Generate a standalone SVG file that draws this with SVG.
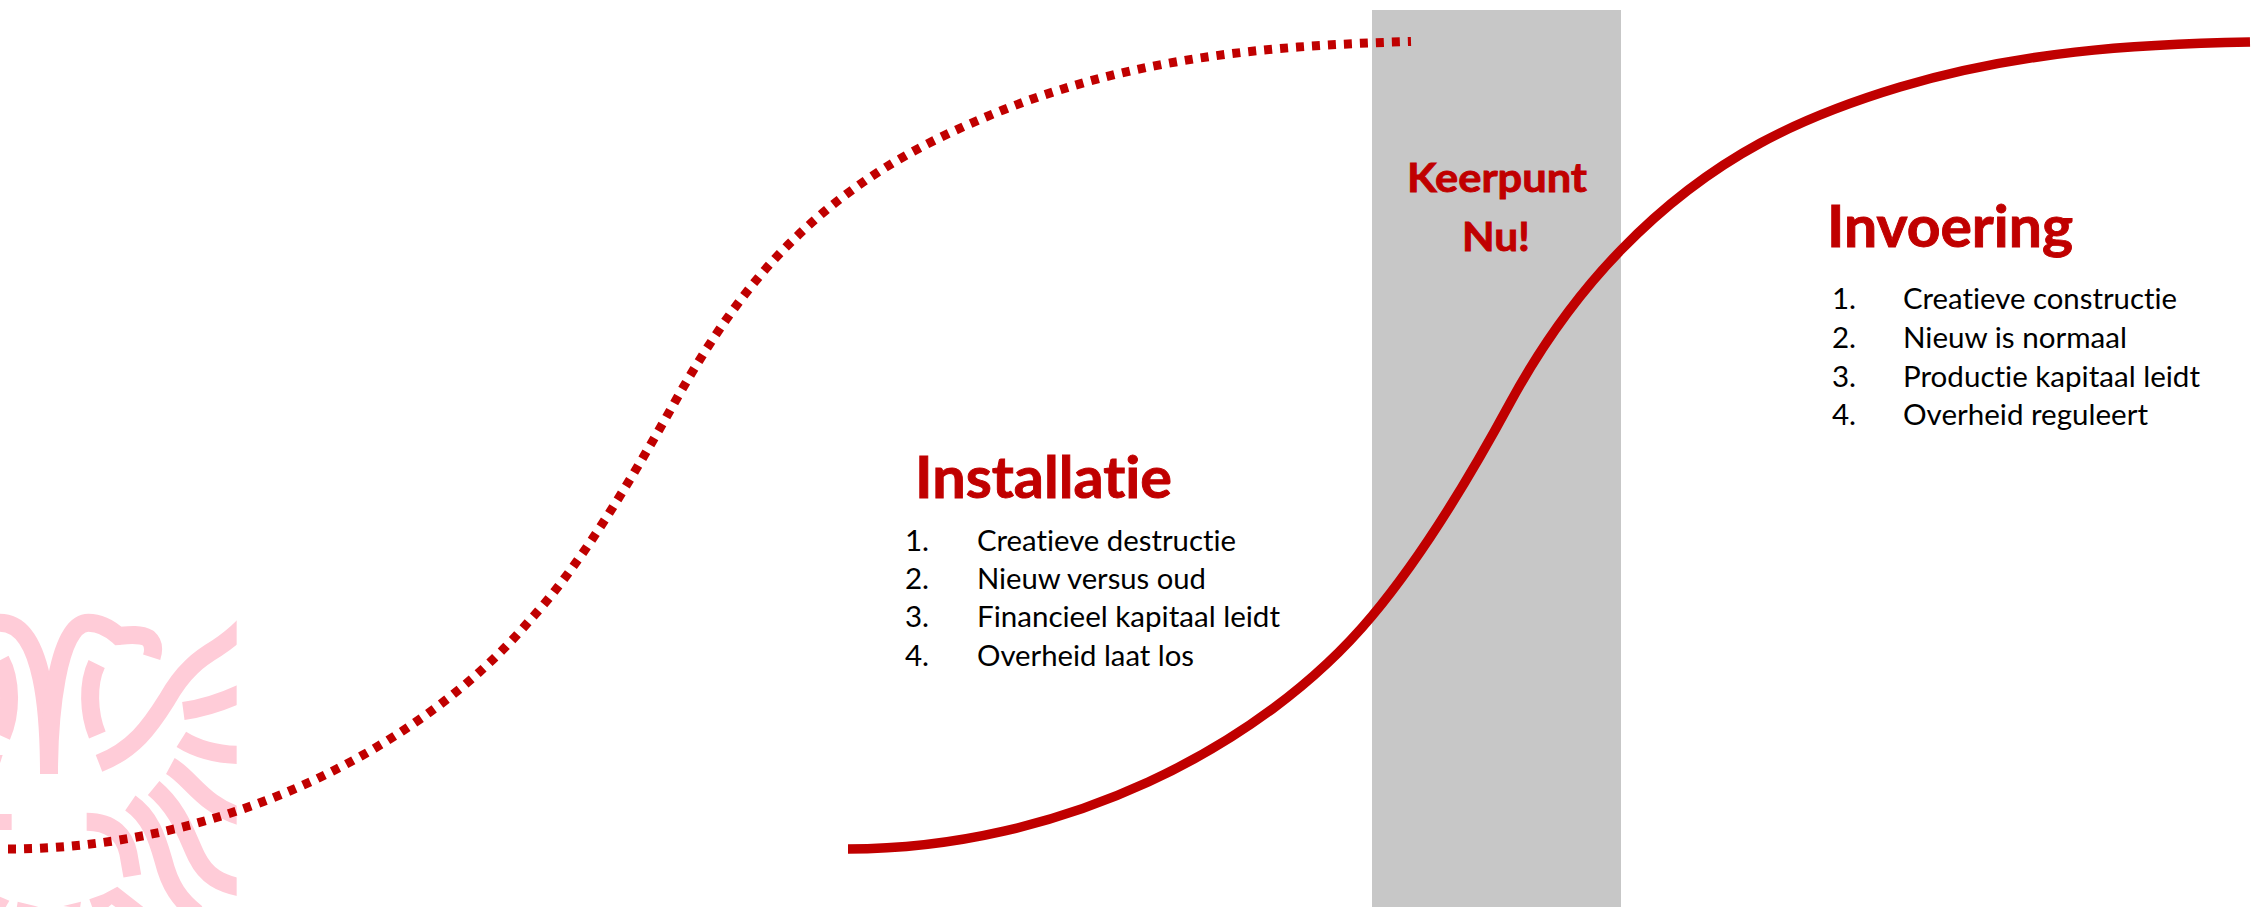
<svg xmlns="http://www.w3.org/2000/svg" width="2253" height="907" viewBox="0 0 2253 907">
  <style>
    .curve { fill: none; stroke: #C00000; stroke-width: 9.5; }
    .dotted { stroke-width: 9; stroke-dasharray: 8 8; }
    .logo path { fill: none; stroke: #FFCCD8; stroke-width: 54; }
    .logo polygon, .logo rect { fill: #FFCCD8; stroke: none; }
    text { font-family: "Lato", "Open Sans", sans-serif; font-variant-ligatures: none; }
    .title { fill: #C00000; font-weight: 700; stroke: #C00000; stroke-width: 0.9; }
    .h1 { font-size: 58px; }
    .h2 { font-size: 41px; }
    .item { fill: #000; font-size: 29.5px; }
  </style>
  <defs>
    <clipPath id="logoClip"><rect x="-5" y="0" width="715" height="990"/></clipPath>
  </defs>
  <rect width="2253" height="907" fill="#fff"/>
  <g id="logo" class="logo" transform="translate(0,580) scale(0.33333)" clip-path="url(#logoClip)">
    <path d="M147,582 C147,420 135,128 0,128"/>
    <path d="M147,582 C147,420 170,128 265,128 C300,128 330,145 355,168 C385,165 420,160 445,175 C462,190 462,210 455,232"/>
    <path d="M290,252 C262,310 265,400 292,465"/>
    <path d="M2,240 C35,300 35,400 5,468"/>
    <polygon points="0,525 8,525 0,550"/>
    <path d="M297,550 C400,510 450,440 500,360 C550,270 600,235 650,205 C680,185 700,170 730,140"/>
    <path d="M550,393 C610,385 660,370 730,337"/>
    <path d="M544,478 C595,510 650,525 730,525"/>
    <path d="M511,558 C570,590 610,680 730,712"/>
    <path d="M461,624 C540,690 560,770 590,830 C620,890 660,910 730,925"/>
    <path d="M391,669 C450,710 470,770 490,840 C510,920 540,960 590,1000"/>
    <path d="M260,725 C340,725 375,770 385,820 L397,888"/>
    <rect x="0" y="702" width="35" height="48"/>
    <polygon points="0,950 28,962 15,985 0,985"/>
    <polygon points="53,965 115,980 50,985"/>
    <polygon points="190,978 243,965 240,985"/>
    <polygon points="268,958 310,943 352,920 435,985 352,985 335,973 320,985 278,985"/>
  </g>
  <g id="keerpunt">
    <rect x="1372" y="10" width="249" height="897" fill="#C7C7C7"/>
    <text class="title h2" x="1407" y="192" textLength="180" lengthAdjust="spacingAndGlyphs">Keerpunt</text>
    <text class="title h2" x="1462" y="251" textLength="68" lengthAdjust="spacingAndGlyphs">Nu!</text>
  </g>
  <g id="connectors">
    <path class="curve dotted" d="M8,849 C220,849 420,750 530,620 C579,567 627,487 676,400 C713,334 750,283 788,245 C860,173 931,139 1003,110 C1139,56 1274,45.5 1411,41.5"/>
    <path class="curve" d="M848,849 C1060,849 1262,748 1372,616 C1418,561 1464,488 1510,403 C1547,335 1584,288 1621,250 C1714,154 1807,115 1900,87 C2017,52 2133,44 2250,42"/>
  </g>
  <g id="installatie">
    <text class="title h1" x="915" y="498" textLength="257" lengthAdjust="spacingAndGlyphs">Installatie</text>
    <text class="item" x="905" y="551">1.</text>
    <text class="item" x="977" y="551" textLength="259" lengthAdjust="spacingAndGlyphs">Creatieve destructie</text>
    <text class="item" x="905" y="589">2.</text>
    <text class="item" x="977" y="589" textLength="229" lengthAdjust="spacingAndGlyphs">Nieuw versus oud</text>
    <text class="item" x="905" y="627">3.</text>
    <text class="item" x="977" y="627" textLength="303" lengthAdjust="spacingAndGlyphs">Financieel kapitaal leidt</text>
    <text class="item" x="905" y="666">4.</text>
    <text class="item" x="977" y="666" textLength="217" lengthAdjust="spacingAndGlyphs">Overheid laat los</text>
  </g>
  <g id="invoering">
    <text class="title h1" x="1827" y="247" textLength="246" lengthAdjust="spacingAndGlyphs">Invoering</text>
    <text class="item" x="1832" y="309">1.</text>
    <text class="item" x="1903" y="309" textLength="274" lengthAdjust="spacingAndGlyphs">Creatieve constructie</text>
    <text class="item" x="1832" y="348">2.</text>
    <text class="item" x="1903" y="348" textLength="224" lengthAdjust="spacingAndGlyphs">Nieuw is normaal</text>
    <text class="item" x="1832" y="387">3.</text>
    <text class="item" x="1903" y="387" textLength="297" lengthAdjust="spacingAndGlyphs">Productie kapitaal leidt</text>
    <text class="item" x="1832" y="425">4.</text>
    <text class="item" x="1903" y="425" textLength="245" lengthAdjust="spacingAndGlyphs">Overheid reguleert</text>
  </g>
</svg>
